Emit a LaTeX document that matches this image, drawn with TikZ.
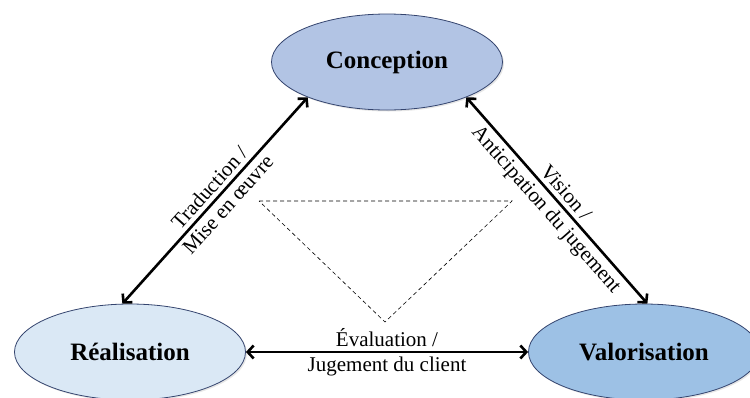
\documentclass[tikz,border=0pt]{standalone}
\usepackage{fontspec}
\setmainfont{Liberation Serif}
\usetikzlibrary{shapes.geometric,arrows.meta,shadows}
\definecolor{concfill}{HTML}{B2C4E4}
\definecolor{realfill}{HTML}{DAE8F5}
\definecolor{valofill}{HTML}{9DC1E5}
\definecolor{pole}{HTML}{34446E}
\begin{document}
\begin{tikzpicture}[x=1pt,y=1pt,
    phase/.style={ellipse,draw=pole,line width=0.8pt,minimum width=231pt,minimum height=96pt,
        font=\fontsize{25}{28}\selectfont\bfseries,
        drop shadow={opacity=0.2,shadow xshift=1.5pt,shadow yshift=-1.5pt}},
    lien/.style={line width=2.6pt,{Straight Barb[length=6pt,width=13pt]}-{Straight Barb[length=6pt,width=13pt]}},
    etiq/.style={font=\fontsize{21}{24}\selectfont,inner sep=4pt}]
    \useasboundingbox (0,0) rectangle (750,-397);
        \draw (387,-62) node[phase,fill=concfill](conception) {Conception};
        \draw (130,-352) node[phase,fill=realfill](realisation) {Réalisation};
        \draw (644,-352) node[phase,fill=valofill](valorisation) {Valorisation};
        \coordinate (tg) at (259,-201);
        \coordinate (td) at (512,-201);
        \coordinate (tb) at (385,-322);
        \draw[dashed,line width=0.6pt,dash pattern=on 4pt off 3pt] (tg) -- (td) -- (tb) -- cycle;
        \draw[lien] (realisation.99) -- (conception.204)
            node[pos=0.52,above,sloped,etiq] {Traduction /}
            node[pos=0.52,below,sloped,etiq] {Mise en œuvre};
        \draw[lien] (conception.336) -- (valorisation.86)
            node[midway,above,sloped,etiq] {Vision /}
            node[midway,below,sloped,etiq] {Anticipation du jugement};
        \draw[lien] (realisation.east) -- (valorisation.west)
            node[midway,above,etiq] {Évaluation /}
            node[midway,below,etiq] {Jugement du client};
\end{tikzpicture}
\end{document}
